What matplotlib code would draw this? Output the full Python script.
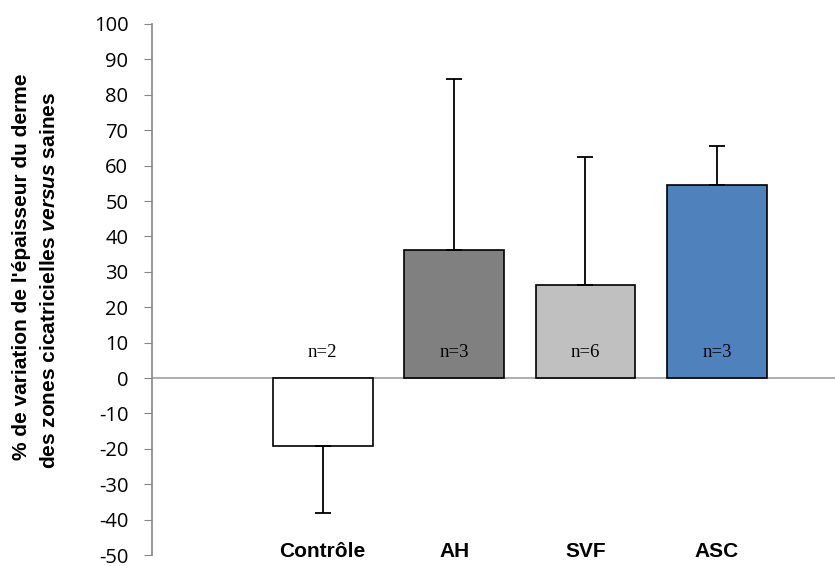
import numpy as np
import matplotlib.pyplot as plt
from matplotlib import font_manager

# data
groups = ['Contrôle', 'AH', 'SVF', 'ASC']
means = [-19.2, 36.3, 26.3, 54.5]
err = [19.0, 48.2, 36.2, 11.0]
n_labels = ['n=2', 'n=3', 'n=6', 'n=3']
colors = ['#ffffff', '#808080', '#c0c0c0', '#4f81bd']

names = {f.name for f in font_manager.fontManager.ttflist}
narrow = 'Liberation Sans Narrow' if 'Liberation Sans Narrow' in names else 'Liberation Sans'

plt.rcParams['mathtext.fontset'] = 'custom'
plt.rcParams['mathtext.bfit'] = 'Liberation Sans:bold:italic'
plt.rcParams['axes.unicode_minus'] = False

W, H = 835, 566
fig = plt.figure(figsize=(W / 100, H / 100), dpi=100)
ax = fig.add_axes([0.182, 0.0194, 0.818, 0.9382])

x = np.arange(1, len(groups) + 1)
ax.bar(x, means, width=0.76, color=colors, edgecolor='black', linewidth=1.2, zorder=2)

# one-sided error bars (away from zero)
lower = [e if m < 0 else 0 for m, e in zip(means, err)]
upper = [e if m >= 0 else 0 for m, e in zip(means, err)]
ax.errorbar(x, means, yerr=[lower, upper], fmt='none', ecolor='black',
            elinewidth=1.3, capsize=6, capthick=1.3, zorder=3)

for xi, lab in zip(x, n_labels):
    ax.text(xi, 7.3, lab, ha='center', va='center', fontsize=13.5,
            family='Liberation Serif')

for xi, g in zip(x, groups):
    ax.text(xi, -49.0, g, ha='center', va='center', fontsize=15,
            fontweight='bold', family=narrow)

ax.axhline(0, color='#a0a0a0', linewidth=1.2, zorder=1)

ax.set_xlim(-0.3, 4.9)
ax.set_ylim(-50, 100)
ax.set_yticks(np.arange(-50, 101, 10))
ax.set_xticks([])
for s in ['top', 'right', 'bottom']:
    ax.spines[s].set_visible(False)
ax.spines['left'].set_color('#868686')
ax.spines['left'].set_linewidth(1.2)
ax.tick_params(axis='y', direction='out', length=6, color='#868686',
               labelsize=14.5, pad=11)
for t in ax.get_yticklabels():
    t.set_family('Open Sans')

# y label, two lines placed in figure pixels
fig.text(22 / W, 1 - 267 / H, "% de variation de l'épaisseur du derme",
         rotation=90, ha='center', va='center', fontsize=15, fontweight='bold',
         family='Liberation Sans')
fig.text(50 / W, 1 - 280 / H, r"des zones cicatricielles $\mathbfit{versus}$ saines",
         rotation=90, ha='center', va='center', fontsize=15, fontweight='bold',
         family='Liberation Sans')

fig.savefig('out.png', dpi=100)
